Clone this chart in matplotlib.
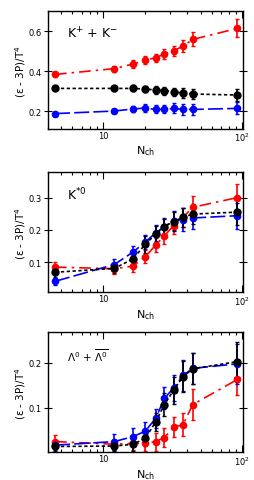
import numpy as np
import matplotlib
matplotlib.use('Agg')
import matplotlib.pyplot as plt
from matplotlib.ticker import LogLocator, NullFormatter, FixedLocator

plt.rcParams['mathtext.default'] = 'regular'

nch = [4.5, 12.0, 16.3, 20.0, 23.8, 27.5, 32.0, 37.4, 44.0, 92.0]

# K+ + K-
kk_red = [0.383, 0.412, 0.435, 0.453, 0.467, 0.485, 0.500, 0.525, 0.558, 0.613]
kk_red_err = [0.012, 0.015, 0.020, 0.020, 0.020, 0.025, 0.025, 0.030, 0.035, 0.045]
kk_blk = [0.313, 0.313, 0.313, 0.310, 0.305, 0.302, 0.295, 0.290, 0.285, 0.280]
kk_blk_err = [0.010, 0.012, 0.015, 0.015, 0.018, 0.020, 0.020, 0.025, 0.025, 0.030]
kk_blu = [0.187, 0.200, 0.210, 0.215, 0.208, 0.208, 0.213, 0.208, 0.208, 0.213]
kk_blu_err = [0.010, 0.012, 0.015, 0.018, 0.020, 0.020, 0.025, 0.028, 0.028, 0.030]

# K*0
ks_red = [0.085, 0.080, 0.088, 0.117, 0.153, 0.182, 0.213, 0.239, 0.270, 0.300]
ks_red_err = [0.015, 0.015, 0.018, 0.020, 0.022, 0.025, 0.025, 0.030, 0.035, 0.042]
ks_blk = [0.069, 0.081, 0.110, 0.155, 0.187, 0.210, 0.226, 0.239, 0.249, 0.255]
ks_blk_err = [0.018, 0.015, 0.022, 0.025, 0.025, 0.025, 0.028, 0.030, 0.030, 0.040]
ks_blu = [0.041, 0.093, 0.131, 0.162, 0.191, 0.210, 0.229, 0.232, 0.237, 0.244]
ks_blu_err = [0.012, 0.018, 0.020, 0.022, 0.025, 0.028, 0.030, 0.035, 0.035, 0.040]

# Lambda + anti-Lambda
la_red = [0.024, 0.018, 0.020, 0.020, 0.024, 0.033, 0.056, 0.062, 0.107, 0.163]
la_red_err = [0.015, 0.012, 0.015, 0.018, 0.020, 0.022, 0.022, 0.026, 0.035, 0.035]
la_blk = [0.013, 0.014, 0.018, 0.031, 0.068, 0.107, 0.139, 0.169, 0.187, 0.203]
la_blk_err = [0.010, 0.012, 0.015, 0.018, 0.020, 0.025, 0.030, 0.035, 0.035, 0.045]
la_blu = [0.016, 0.024, 0.035, 0.047, 0.076, 0.121, 0.144, 0.172, 0.188, 0.198]
la_blu_err = [0.010, 0.018, 0.020, 0.020, 0.022, 0.025, 0.030, 0.035, 0.035, 0.045]

panels = [
    ('K$^{+}$ + K$^{-}$', (0.11, 0.70), [0.2, 0.4, 0.6],
     kk_red, kk_red_err, kk_blk, kk_blk_err, kk_blu, kk_blu_err, 0.7297, 0.2453),
    ('K$^{*0}$', (0.007, 0.38), [0.1, 0.2, 0.3],
     ks_red, ks_red_err, ks_blk, ks_blk_err, ks_blu, ks_blu_err, 0.3902, 0.2507),
    (r'$\Lambda^0$ + $\overline{\Lambda^0}$', (0.0, 0.27), [0.1, 0.2],
     la_red, la_red_err, la_blk, la_blk_err, la_blu, la_blu_err, 0.0576, 0.2507),
]

fig = plt.figure(figsize=(2.55, 4.81), dpi=100)

for i, (title, ylim, yticks, r, re, k, ke, b, be, bot, h) in enumerate(panels):
    ax = fig.add_axes([0.188, bot, 0.765, h])
    ax.errorbar(nch, r, yerr=re, color='red', marker='o', ms=4.5, lw=1.2,
                dashes=(7, 3, 1.5, 3), capsize=1.5, elinewidth=1.2, capthick=1)
    ax.errorbar(nch, b, yerr=be, color='blue', marker='o', ms=4.5, lw=1.2,
                dashes=(9, 2.5), capsize=1.5, elinewidth=1.2, capthick=1)
    ax.errorbar(nch, k, yerr=ke, color='black', marker='o', ms=5, lw=1.2,
                dashes=(2, 1.5), capsize=1.5, elinewidth=1.2, capthick=1)
    ax.set_xscale('log')
    ax.set_xlim(4.0, 101)
    ax.set_ylim(*ylim)
    ax.xaxis.set_major_locator(FixedLocator([10, 100]))
    ax.set_xticklabels(['10', '10$^{2}$'])
    ax.xaxis.set_minor_locator(LogLocator(base=10, subs=np.arange(2, 10)))
    ax.xaxis.set_minor_formatter(NullFormatter())
    ax.set_yticks(yticks)
    ax.set_yticklabels([('%g' % v) for v in yticks])
    ax.tick_params(which='both', direction='in', top=True, right=True,
                   labelsize=6, width=0.8, pad=1.5)
    ax.tick_params(which='major', length=5)
    ax.tick_params(which='minor', length=2.5)
    ax.tick_params(axis='y', which='major', direction='inout', length=6)
    for s in ax.spines.values():
        s.set_linewidth(1.0)
    ax.set_ylabel(r'($\epsilon$ - 3P)/T$^{4}$', fontsize=7.5)
    ax.yaxis.set_label_coords(-0.10, 0.5)
    ax.set_xlabel('N$_{ch}$', fontsize=8, labelpad=0)
    ax.text(0.1, 0.88, title, transform=ax.transAxes, fontsize=9 if i < 2 else 7.5,
            va='top', ha='left')

fig.savefig('out.png', dpi=100)
